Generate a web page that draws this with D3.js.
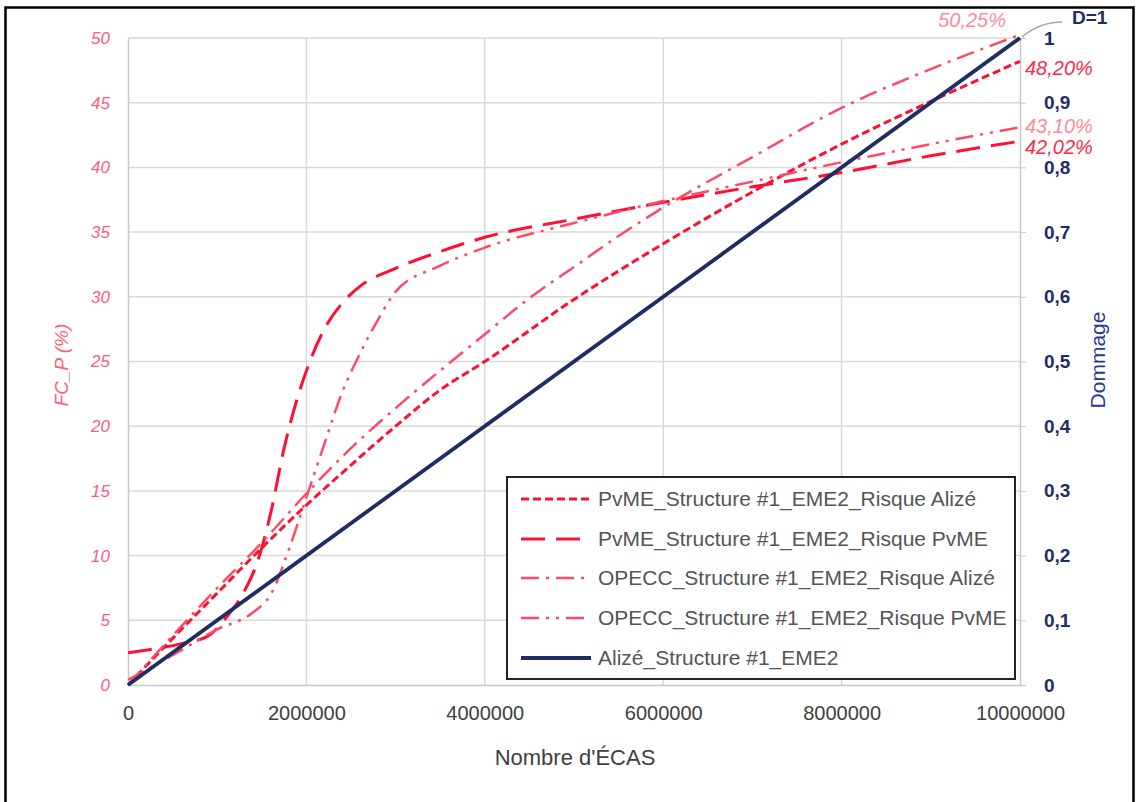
<!DOCTYPE html>
<html>
<head>
<meta charset="utf-8">
<script src="https://cdn.jsdelivr.net/npm/d3@7"></script>
<style>
  html, body { margin: 0; padding: 0; background: #fff; }
  svg { display: block; }
  text { font-family: "Liberation Sans", Arial, sans-serif; }
</style>
</head>
<body>
<svg id="chart" width="1139" height="802"></svg>
<script>
// ---- Data -------------------------------------------------------------
// Number of ECAS (x) and cumulated FC_P in % (left axis)
const pvmeAlizeX = [0, 500000, 1000000, 1500000, 2000000, 2500000, 3000000, 3500000, 4000000, 5000000, 6000000, 7000000, 8000000, 9000000, 10000000];
const pvmeAlizeY = [0, 3.6, 7.1, 10.6, 13.9, 17.0, 20.0, 22.8, 25.0, 29.8, 34.1, 38.1, 41.8, 45.1, 48.20];

const pvmePvmeX = [0, 300000, 600000, 900000, 1100000, 1300000, 1450000, 1600000, 1750000, 1900000, 2050000, 2200000, 2400000, 2600000, 3000000, 3500000, 4000000, 5000000, 6000000, 7000000, 8000000, 9000000, 10000000];
const pvmePvmeY = [2.5, 2.8, 3.2, 3.8, 5.2, 7.2, 9.5, 13.3, 18.3, 22.2, 25.2, 27.5, 29.5, 30.8, 32.2, 33.5, 34.6, 36.0, 37.3, 38.5, 39.6, 40.9, 42.02];

const opeccAlizeX = [0, 500000, 1000000, 1500000, 2000000, 2500000, 3000000, 3500000, 4000000, 4500000, 5000000, 5500000, 6000000, 7000000, 8000000, 9000000, 10000000];
const opeccAlizeY = [0, 3.8, 7.5, 11.0, 14.8, 18.3, 21.4, 24.3, 27.1, 29.9, 32.3, 34.7, 36.9, 40.8, 44.6, 47.6, 50.25];

const opeccPvmeX = [0, 500000, 1000000, 1400000, 1600000, 1800000, 2000000, 2200000, 2400000, 2600000, 2800000, 3000000, 3500000, 4000000, 5000000, 6000000, 7000000, 8000000, 9000000, 10000000];
const opeccPvmeY = [0.4, 2.3, 4.3, 5.6, 7.0, 10.4, 14.5, 18.6, 22.6, 25.6, 28.2, 30.4, 32.4, 33.8, 35.7, 37.4, 38.9, 40.4, 41.8, 43.10];

// Damage (right axis)
const alizeX = [0, 10000000];
const alizeD = [0, 1];

const seriesNames = [
  "PvME_Structure #1_EME2_Risque Alizé",
  "PvME_Structure #1_EME2_Risque PvME",
  "OPECC_Structure #1_EME2_Risque Alizé",
  "OPECC_Structure #1_EME2_Risque PvME",
  "Alizé_Structure #1_EME2"
];
const endLabels = ["48,20%", "42,02%", "50,25%", "43,10%"];

const xTicks = [0, 2000000, 4000000, 6000000, 8000000, 10000000];
const leftTicks = [0, 5, 10, 15, 20, 25, 30, 35, 40, 45, 50];
const rightTicks = [0, 0.1, 0.2, 0.3, 0.4, 0.5, 0.6, 0.7, 0.8, 0.9, 1];

// ---- Layout -----------------------------------------------------------
const svg = d3.select("#chart");
const plot = { left: 128, right: 1020, top: 38, bottom: 685 };

const x = d3.scaleLinear().domain([0, 10000000]).range([plot.left, plot.right]);
const yL = d3.scaleLinear().domain([0, 50]).range([plot.bottom, plot.top]);
const yR = d3.scaleLinear().domain([0, 1]).range([plot.bottom, plot.top]);

const gridColor = "#d9d9d9";
const pinkAxis = "#ff5c78";
const navy = "#1f2d63";

// outer frame
svg.append("rect")
  .attr("x", 5.5).attr("y", 7.5).attr("width", 1128).attr("height", 820)
  .attr("fill", "none").attr("stroke", "#000").attr("stroke-width", 2.5);

// gridlines
const grid = svg.append("g");
grid.selectAll("line.h").data(leftTicks.slice(1)).join("line")
  .attr("x1", plot.left).attr("x2", plot.right)
  .attr("y1", d => yL(d)).attr("y2", d => yL(d))
  .attr("stroke", gridColor).attr("stroke-width", 1.5);
grid.selectAll("line.v").data(xTicks.slice(1, -1)).join("line")
  .attr("x1", d => x(d)).attr("x2", d => x(d))
  .attr("y1", plot.top).attr("y2", plot.bottom)
  .attr("stroke", gridColor).attr("stroke-width", 1.5);

// axes
const axisB = svg.append("g").attr("transform", `translate(0,${plot.bottom})`)
  .call(d3.axisBottom(x).tickValues(xTicks).tickFormat(d3.format("d")).tickSize(0).tickPadding(21));
axisB.select(".domain").attr("stroke", "#c8c8c8").attr("stroke-width", 1.5);
axisB.selectAll("text").attr("font-size", 20).attr("fill", "#404040");

const axisL = svg.append("g").attr("transform", `translate(${plot.left},0)`)
  .call(d3.axisLeft(yL).tickValues(leftTicks).tickSize(0).tickPadding(18));
axisL.select(".domain").attr("stroke", "#c8c8c8").attr("stroke-width", 1.5);
axisL.selectAll("text").attr("font-size", 17).attr("font-style", "italic").attr("fill", pinkAxis);

const axisR = svg.append("g").attr("transform", `translate(${plot.right},0)`)
  .call(d3.axisRight(yR).tickValues(rightTicks).tickSize(6).tickPadding(18)
    .tickFormat(d => d === 0 || d === 1 ? String(d) : d3.format(".1f")(d).replace(".", ",")));
axisR.select(".domain").attr("stroke", "#c8c8c8").attr("stroke-width", 1.5);
axisR.selectAll("line").attr("stroke", "#c8c8c8");
axisR.selectAll("text").attr("font-size", 19).attr("font-weight", "bold").attr("fill", navy);

// axis titles
svg.append("text").attr("x", 575).attr("y", 765).attr("text-anchor", "middle")
  .attr("font-size", 22).attr("fill", "#404040").text("Nombre d'ÉCAS");
svg.append("text").attr("transform", "translate(68,365) rotate(-90)").attr("text-anchor", "middle")
  .attr("font-size", 19).attr("font-style", "italic").attr("fill", pinkAxis).text("FC_P (%)");
svg.append("text").attr("transform", "translate(1105,360) rotate(-90)").attr("text-anchor", "middle")
  .attr("font-size", 21).attr("fill", "#2b3a8c").text("Dommage");

// ---- Series -----------------------------------------------------------
const series = [
  { xs: pvmeAlizeX, ys: pvmeAlizeY, color: "#ff1030", width: 3, dash: "8,4" },
  { xs: pvmePvmeX, ys: pvmePvmeY, color: "#ff1030", width: 3, dash: "24,11" },
  { xs: opeccAlizeX, ys: opeccAlizeY, color: "#ff4a66", width: 2.5, dash: "18,7,3,7" },
  { xs: opeccPvmeX, ys: opeccPvmeY, color: "#ff4a66", width: 2.5, dash: "18,7,3,7,3,7" }
];

const lineL = d3.line().x(d => x(d[0])).y(d => yL(d[1])).curve(d3.curveMonotoneX);
const lineR = d3.line().x(d => x(d[0])).y(d => yR(d[1]));

const lines = svg.append("g");
series.forEach(s => {
  lines.append("path")
    .attr("d", lineL(d3.zip(s.xs, s.ys)))
    .attr("fill", "none").attr("stroke", s.color)
    .attr("stroke-width", s.width).attr("stroke-dasharray", s.dash);
});
lines.append("path")
  .attr("d", lineR(d3.zip(alizeX, alizeD)))
  .attr("fill", "none").attr("stroke", navy).attr("stroke-width", 3.8);

// ---- End labels -------------------------------------------------------
const lastX = 10000000;
const lab = svg.append("g").attr("font-size", 20).attr("font-style", "italic");
lab.append("text").attr("x", x(lastX) + 5).attr("y", yL(pvmeAlizeY[pvmeAlizeY.length - 1]) + 14)
  .attr("fill", "#ff2a44").text(endLabels[0]);
lab.append("text").attr("x", x(lastX) + 5).attr("y", yL(pvmePvmeY[pvmePvmeY.length - 1]) + 13)
  .attr("fill", "#ff2a44").text(endLabels[1]);
lab.append("text").attr("x", x(lastX) - 14).attr("y", yL(opeccAlizeY[opeccAlizeY.length - 1]) - 8)
  .attr("text-anchor", "end").attr("fill", "#ff8a9c").text(endLabels[2]);
lab.append("text").attr("x", x(lastX) + 5).attr("y", yL(opeccPvmeY[opeccPvmeY.length - 1]) + 6)
  .attr("fill", "#ff8a9c").text(endLabels[3]);

// D=1 callout
const dEnd = [x(alizeX[1]), yR(alizeD[1])];
svg.append("path")
  .attr("d", `M${dEnd[0] + 2},${dEnd[1] - 1} Q${dEnd[0] + 20},${dEnd[1] - 16} ${dEnd[0] + 42},${dEnd[1] - 16}`)
  .attr("fill", "none").attr("stroke", "#a6a6a6").attr("stroke-width", 1.5);
svg.append("text").attr("x", dEnd[0] + 52).attr("y", dEnd[1] - 14)
  .attr("font-size", 19).attr("font-weight", "bold").attr("fill", navy).text("D=1");

// ---- Legend -----------------------------------------------------------
const legend = svg.append("g");
legend.append("rect").attr("x", 507).attr("y", 477).attr("width", 508).attr("height", 202)
  .attr("fill", "#fff").attr("stroke", "#222").attr("stroke-width", 2);
const legendStyles = series.concat([{ color: navy, width: 3.8, dash: null }]);
const rowY = [499, 539, 578, 618, 658];
legendStyles.forEach((s, i) => {
  legend.append("line").attr("x1", 521).attr("x2", 591).attr("y1", rowY[i]).attr("y2", rowY[i])
    .attr("stroke", s.color).attr("stroke-width", s.width)
    .attr("stroke-dasharray", s.dash);
  legend.append("text").attr("x", 598).attr("y", rowY[i] + 7)
    .attr("font-size", 21).attr("fill", "#555").text(seriesNames[i]);
});
</script>
</body>
</html>
